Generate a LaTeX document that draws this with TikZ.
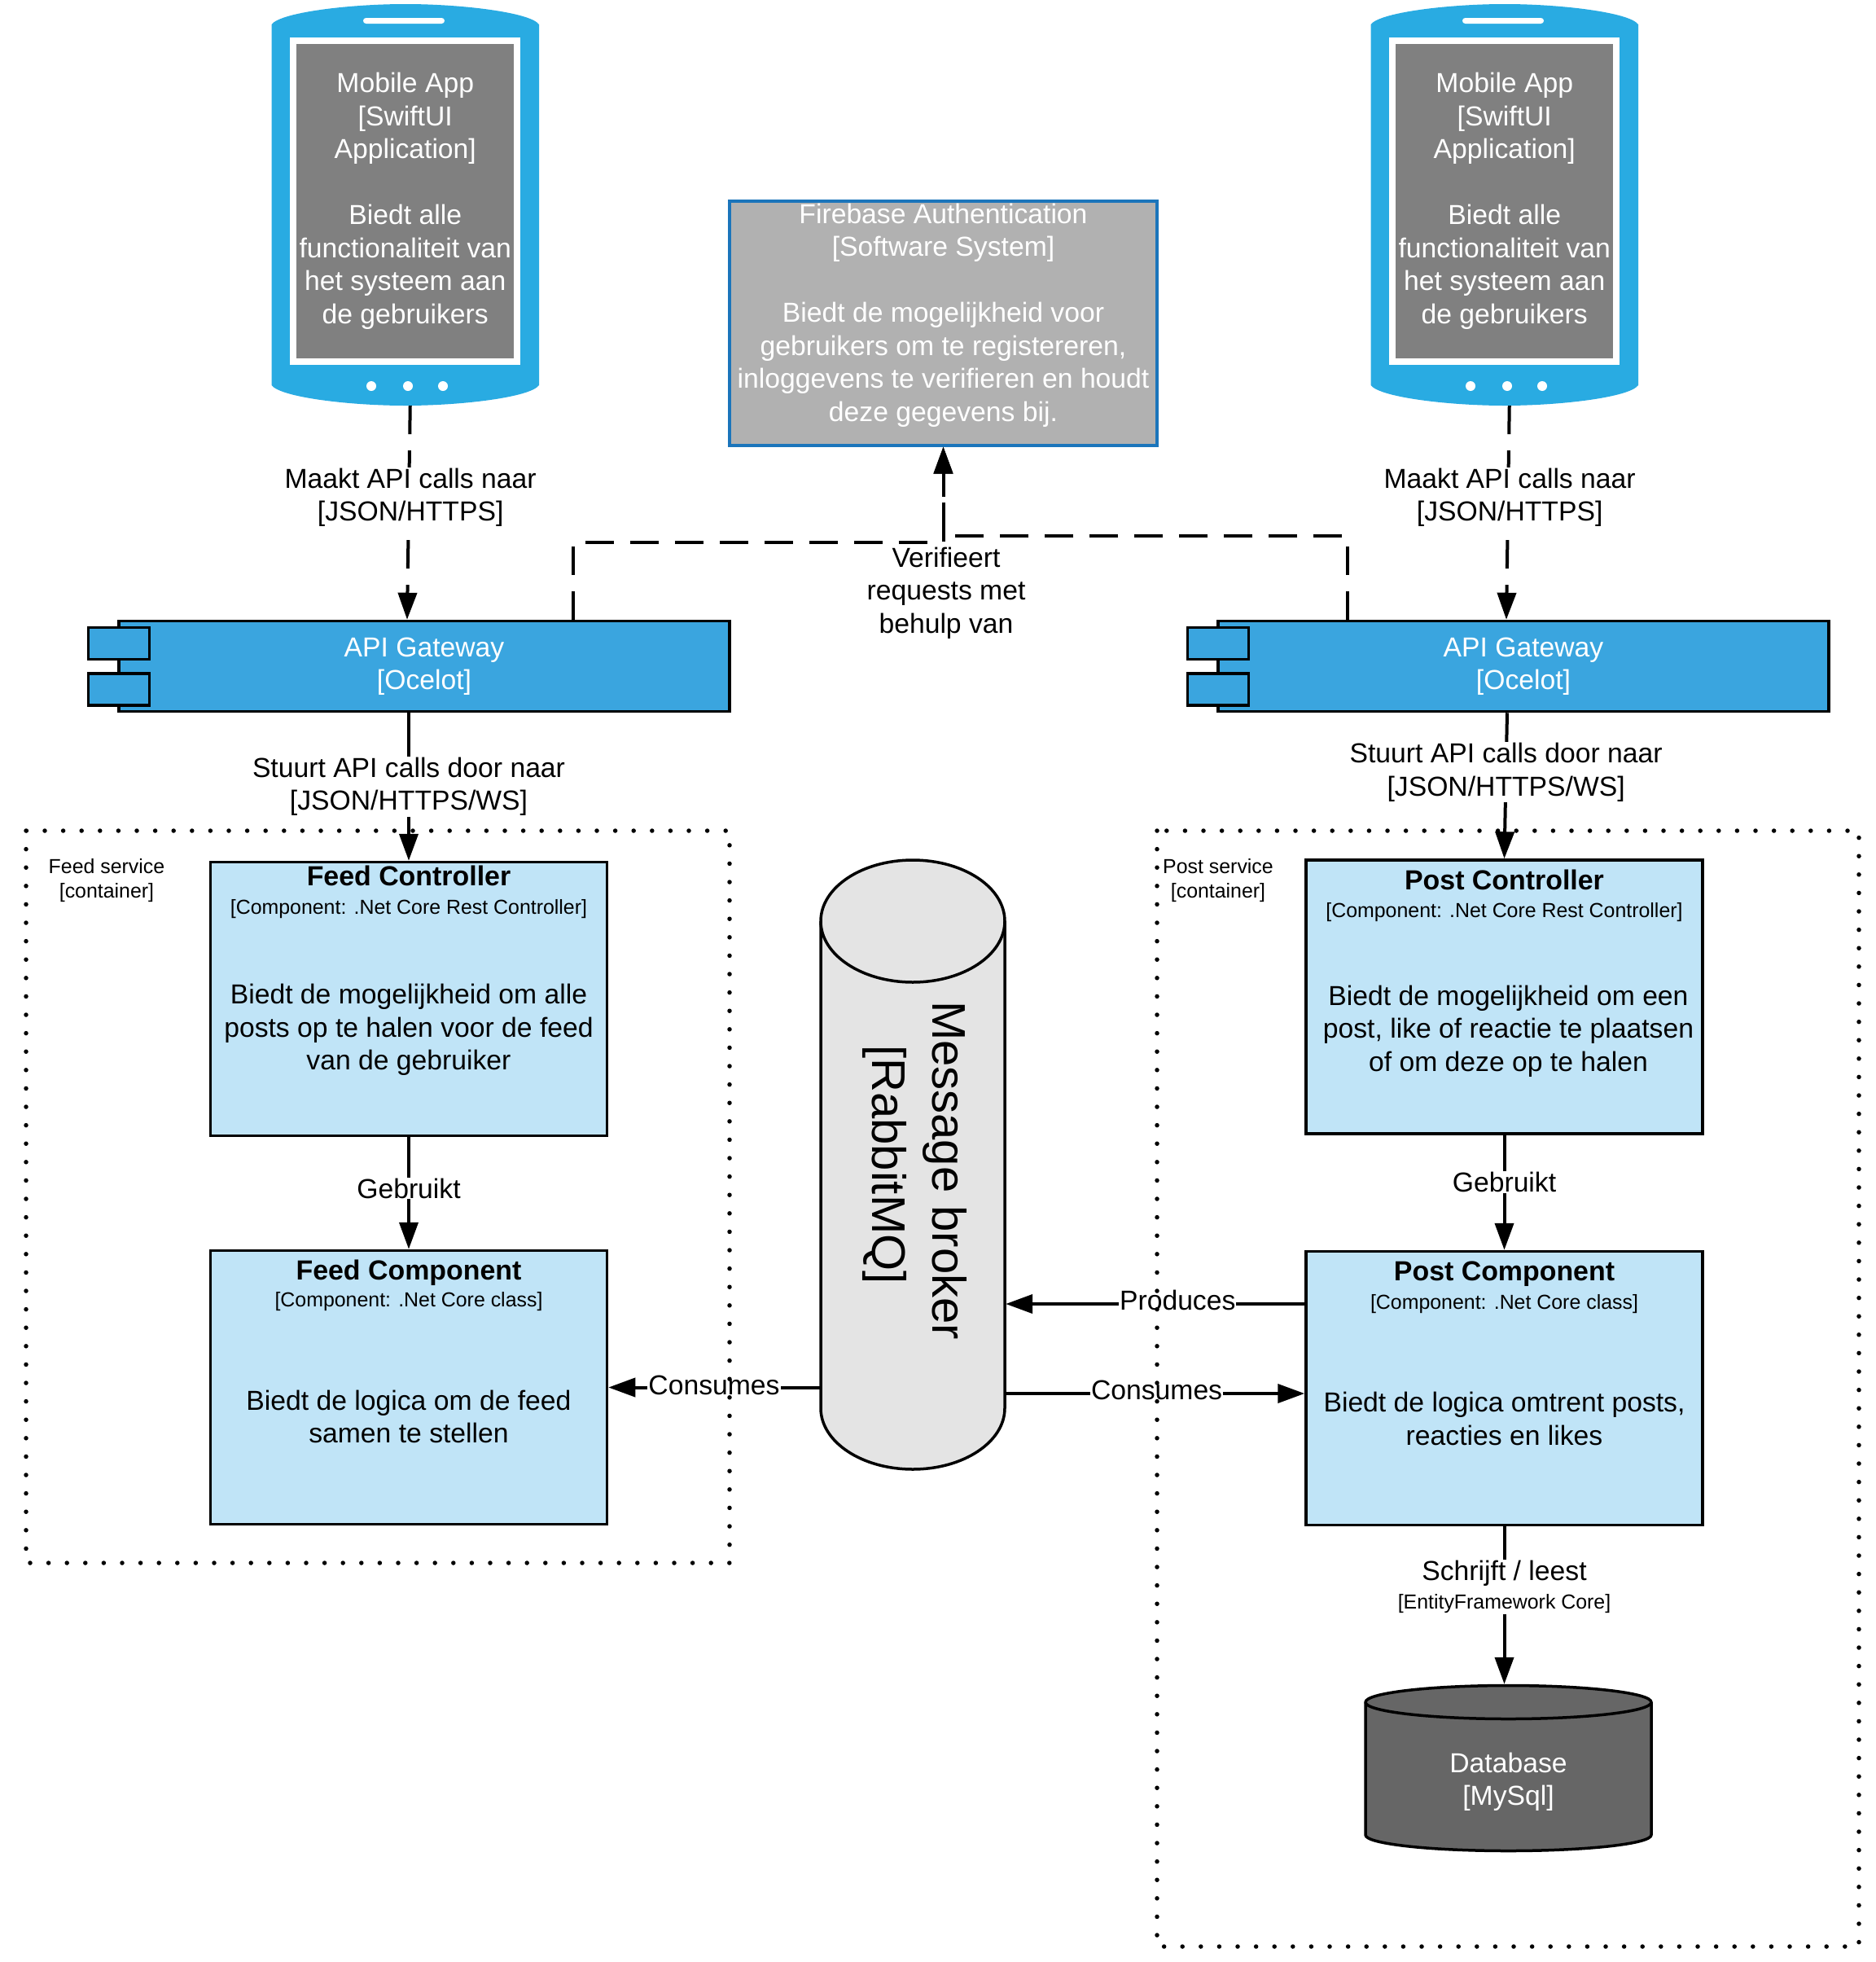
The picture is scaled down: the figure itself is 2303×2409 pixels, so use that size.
\documentclass[tikz,border=0pt]{standalone}
\usepackage{fontspec}
\setmainfont{Liberation Sans}
\usepackage{tikz}
\usetikzlibrary{arrows.meta, positioning}
\definecolor{phoneBlue}{HTML}{29ABE2}
\definecolor{screenGrey}{HTML}{808080}
\definecolor{gatewayBlue}{HTML}{3AA5DF}
\definecolor{compBlue}{HTML}{C0E4F7}
\definecolor{systemGrey}{HTML}{B1B1B1}
\definecolor{systemEdge}{HTML}{1B75BB}
\definecolor{brokerGrey}{HTML}{E4E4E4}
\definecolor{dbGrey}{HTML}{666666}
\begin{document}
\begin{tikzpicture}[x=1pt, y=-1pt, font={\fontsize{33.7}{40.5}\selectfont} ,
screen/.style={rectangle, draw=white, line width=8pt, fill=screenGrey, text=white, align=center, inner sep=0pt, minimum width=275pt, minimum height=394pt} ,
gateway/.style={rectangle, draw=black, line width=3.5pt, fill=gatewayBlue, text=white, align=center, minimum width=750pt, minimum height=111pt} ,
gwPort/.style={rectangle, draw=black, line width=3.5pt, fill=gatewayBlue, minimum width=75pt, minimum height=39pt} ,
system/.style={rectangle, draw=systemEdge, line width=4pt, fill=systemGrey, minimum width=524.5pt, minimum height=300pt} ,
comp/.style={rectangle, draw=black, line width=3.5pt, fill=compBlue, minimum width=487pt, minimum height=336pt} ,
compName/.style={font={\fontsize{33.9}{40.5}\selectfont\bfseries}, inner sep=0pt} ,
compTech/.style={font={\fontsize{24.9}{30}\selectfont}, inner sep=0pt} ,
compDesc/.style={align=center, inner sep=0pt} ,
can/.style={draw=black, line width=3.5pt, line join=round} ,
area/.style={draw=black, line width=5.5pt, line cap=round, dash pattern=on 0pt off 22.6pt} ,
areaName/.style={font={\fontsize{24.9}{30.5}\selectfont}, align=center, inner sep=0pt} ,
flow/.style={draw=black, line width=4pt, -{Triangle[length=33pt, width=23pt]}} ,
dashflow/.style={flow, dash pattern=on 35pt off 20pt} ,
flowName/.style={fill=white, align=center, inner sep=1pt}
]
\useasboundingbox (0,0) rectangle (2303,2409) ;
\foreach \side/\shift in {L/0, R/1350} {
    \begin{scope}[xshift=\shift]
    \fill [phoneBlue] (333.5,30) .. controls (345,15) and (430,5) .. (498,5) .. controls (566,5) and (651,15) .. (662,30)
        -- (662,473) .. controls (651,488) and (566,498) .. (498,498) .. controls (430,498) and (345,488) .. (333.5,473) -- cycle ;
    \node (phone\side) at (497.75,251.5) [minimum width=328.5pt, minimum height=493pt, inner sep=0pt] {} ;
    \node (screen\side) at (phone\side) [screen, yshift=4.5pt] {Mobile App\\{[SwiftUI}\\Application]\\ \\Biedt alle\\functionaliteit van\\het systeem aan\\de gebruikers} ;
    \fill [white, rounded corners=3.5pt] (446,22) rectangle (546,29) ;
    \fill [white] (456,474) circle (6) (501,474) circle (6) (544,474) circle (6) ;
    \node (gw\side) at (521,818) [gateway] {API Gateway\\{[Ocelot]}} ;
    \node (gw\side A) at (146,790) [gwPort] {} ;
    \node (gw\side B) at (146,846.5) [gwPort] {} ;
    \draw [dashflow] ([xshift=6pt]phone\side.south) -- node [flowName, pos=0.428, xshift=2pt] {Maakt API calls naar\\{[JSON/HTTPS]}} ([xshift=-21pt]gw\side.north) ;
    \end{scope}
}

\node (firebase) at (1158.5,396.5) [system] {} ;
\node (firebaseText) at (1158.5,387) [align=center, text=white, inner sep=0pt] {Firebase Authentication\\{[Software System]}\\ \\Biedt de mogelijkheid voor\\gebruikers om te registereren,\\inloggevens te verifieren en houdt\\deze gegevens bij.} ;

\draw [dashflow] ([xshift=-216pt]gwR.north) |- ([yshift=-109pt]firebase.south) -- (firebase.south) ;
\draw [dashflow] ([xshift=183pt]gwL.north) |- ([yshift=-117pt]firebase.south) -- (firebase.south) ;
\node (verifyName) at (1162,728) [flowName, inner sep=0pt] {Verifieert\\requests met\\behulp van} ;

\node (feedCtrl) at (502,1226.5) [comp] {} ;
\node (feedCtrlName) at (feedCtrl.north) [compName, yshift=-19pt] {Feed Controller} ;
\node (feedCtrlTech) at (feedCtrlName) [compTech, yshift=-40pt] {[Component: .Net Core Rest Controller]} ;
\node (feedCtrlDesc) at (feedCtrl) [compDesc, yshift=-38pt] {Biedt de mogelijkheid om alle\\posts op te halen voor de feed\\van de gebruiker} ;

\node (feedComp) at (502,1703.5) [comp] {} ;
\node (feedCompName) at (feedComp.north) [compName, yshift=-29pt] {Feed Component} ;
\node (feedCompTech) at (feedCompName) [compTech, yshift=-35.5pt] {[Component: .Net Core class]} ;
\node (feedCompDesc) at (feedComp) [compDesc, yshift=-36pt] {Biedt de logica om de feed\\samen te stellen} ;

\node (postCtrl) at (1847.5,1224) [comp] {} ;
\node (postCtrlName) at (postCtrl.north) [compName, yshift=-26pt] {Post Controller} ;
\node (postCtrlTech) at (postCtrlName) [compTech, yshift=-40pt] {[Component: .Net Core Rest Controller]} ;
\node (postCtrlDesc) at (postCtrl) [compDesc, xshift=5pt, yshift=-42pt] {Biedt de mogelijkheid om een\\post, like of reactie te plaatsen\\of om deze op te halen} ;

\node (postComp) at (1847.5,1704.5) [comp] {} ;
\node (postCompName) at (postComp.north) [compName, yshift=-29pt] {Post Component} ;
\node (postCompTech) at (postCompName) [compTech, yshift=-37pt] {[Component: .Net Core class]} ;
\node (postCompDesc) at (postComp) [compDesc, yshift=-37.5pt] {Biedt de logica omtrent posts,\\reacties en likes} ;

\node (broker) at (1121,1430) [minimum width=228pt, minimum height=748pt, inner sep=0pt] {} ;
\draw [can, fill=brokerGrey] (1008,1131) arc [start angle=180, end angle=0, x radius=113pt, y radius=75pt]
    -- (1234,1729) arc [start angle=0, end angle=-180, x radius=113pt, y radius=75pt] -- cycle ;
\draw [can] (1008,1131) arc [start angle=180, end angle=360, x radius=113pt, y radius=75pt] ;
\node (brokerText) at (1123.5,1437) [rotate=-90, align=center, inner sep=0pt, font={\fontsize{58}{74}\selectfont}] {Message broker\\{[RabbitMQ]}\hspace*{14pt}} ;

\node (database) at (1852,2171) [minimum width=354pt, minimum height=206pt, inner sep=0pt] {} ;
\draw [can, fill=dbGrey] (1677,2090) arc [start angle=180, end angle=0, x radius=175.5pt, y radius=20.5pt]
    -- (2028,2253) arc [start angle=0, end angle=-180, x radius=175.5pt, y radius=19.5pt] -- cycle ;
\draw [can] (1677,2090) arc [start angle=180, end angle=360, x radius=175.5pt, y radius=20.5pt] ;
\node (databaseText) at (1852.5,2188) [align=center, text=white, inner sep=0pt] {Database\\{[MySql]}} ;

\draw [flow] (feedCtrl.north |- gwL.south) -- node [flowName, pos=0.5] {Stuurt API calls door naar\\{[JSON/HTTPS/WS]}} (feedCtrl.north) ;
\draw [flow] ([xshift=-20pt]gwR.south) -- node [flowName, pos=0.407] {Stuurt API calls door naar\\{[JSON/HTTPS/WS]}} (postCtrl.north) ;
\draw [flow] (feedCtrl.south) -- node [flowName, pos=0.457] {Gebruikt} (feedComp.north) ;
\draw [flow] (postCtrl.south) -- node [flowName, pos=0.41] {Gebruikt} (postComp.north) ;
\draw [flow] (broker.west |- feedComp) -- node [flowName, pos=0.5, yshift=3pt] {Consumes} (feedComp.east) ;
\draw [flow] (postComp.west |- 0,1601) -- node [flowName, pos=0.425, yshift=5pt] {Produces} (broker.east |- 0,1601) ;
\draw [flow] (broker.east |- 0,1711) -- node [flowName, pos=0.505, yshift=4pt] {Consumes} (postComp.west |- 0,1711) ;
\draw [flow] (postComp.south) -- node [flowName, pos=0.383] {Schrijft / leest\\[-5pt]{\fontsize{24.9}{30}\selectfont [EntityFramework Core]}} (postComp.south |- database.north) ;

\draw [area] (32,1020) rectangle (896,1919) ;
\node (feedArea) at (131,1081) [areaName] {Feed service\\{[container]}} ;
\draw [area] (1421,1020) rectangle (2283,2390) ;
\node (postArea) at (1496,1081) [areaName] {Post service\\{[container]}} ;
\end{tikzpicture}
\end{document}
